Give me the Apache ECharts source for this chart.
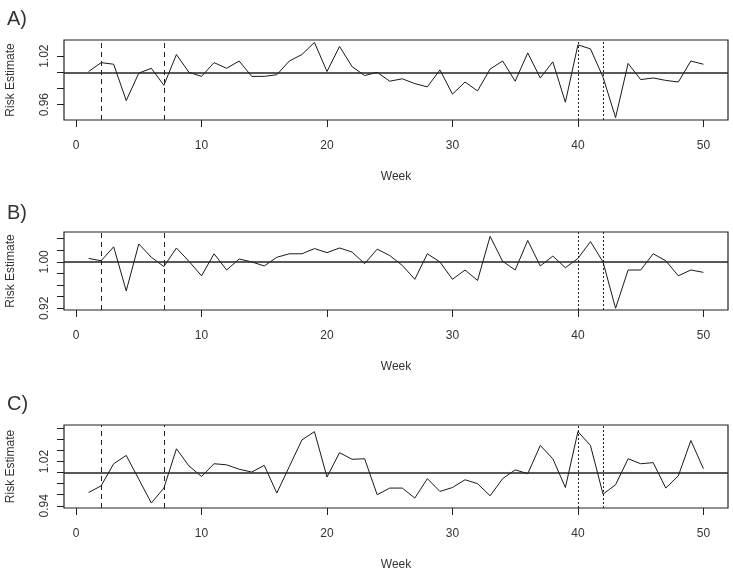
<!DOCTYPE html>
<html>
<head>
<meta charset="utf-8">
<style>
  html, body { margin: 0; padding: 0; background: #fff; }
  #chart-container { width: 733px; height: 573px; }
</style>
</head>
<body>
<div id="chart-container"></div>
<script src="https://cdn.jsdelivr.net/npm/echarts@6/dist/echarts.min.js"></script>
<script>
// weeks 1..50
const weeks = [];
for (let i = 1; i <= 50; i++) weeks.push(i);

// risk estimates
const riskA = [
  1.001, 1.012, 1.010, 0.965, 0.999, 1.005, 0.984, 1.022, 1.000, 0.995,
  1.012, 1.005, 1.014, 0.995, 0.995, 0.997, 1.014, 1.022, 1.037, 1.001,
  1.032, 1.007, 0.996, 1.000, 0.989, 0.992, 0.986, 0.982, 1.003, 0.973,
  0.988, 0.977, 1.004, 1.014, 0.989, 1.024, 0.993, 1.013, 0.963, 1.034,
  1.029, 0.994, 0.944, 1.011, 0.991, 0.993, 0.990, 0.988, 1.014, 1.010
];
const riskB = [
  1.006, 1.002, 1.026, 0.950, 1.031, 1.008, 0.992, 1.024, 1.001, 0.976,
  1.014, 0.986, 1.005, 1.000, 0.993, 1.008, 1.014, 1.014, 1.023, 1.016,
  1.024, 1.017, 0.997, 1.022, 1.011, 0.994, 0.970, 1.014, 1.000, 0.970,
  0.986, 0.968, 1.044, 1.001, 0.986, 1.037, 0.993, 1.010, 0.990, 1.006,
  1.035, 1.000, 0.920, 0.986, 0.986, 1.014, 1.002, 0.976, 0.986, 0.982
];
const riskC = [
  0.964, 0.976, 1.016, 1.031, 0.988, 0.945, 0.972, 1.043, 1.012, 0.993,
  1.016, 1.014, 1.006, 1.001, 1.013, 0.963, 1.011, 1.059, 1.074, 0.992,
  1.036, 1.024, 1.025, 0.960, 0.972, 0.972, 0.954, 0.989, 0.966, 0.973,
  0.987, 0.980, 0.958, 0.989, 1.005, 0.998, 1.049, 1.025, 0.973, 1.074,
  1.049, 0.961, 0.978, 1.025, 1.016, 1.018, 0.972, 0.994, 1.058, 1.007
];

const panelNames = ["A)", "B)", "C)"];
const xTicks = [0, 10, 20, 30, 40, 50];
const yTicksA = [0.96, 0.98, 1.0, 1.02];
const yTicksB = [0.92, 0.94, 0.96, 0.98, 1.0, 1.02, 1.04];
const yTicksC = [0.94, 0.96, 0.98, 1.0, 1.02, 1.04, 1.06, 1.08];
const yLabelsA = [0.96, 1.02];
const yLabelsB = [0.92, 1.0];
const yLabelsC = [0.94, 1.02];
const dashedWeeks = [2, 7];
const dottedWeeks = [40, 42];

let dom = document.getElementById("chart-container");
let myChart = echarts.init(dom, null, { renderer: "canvas" });

const txt = "#333";
const font = "Liberation Sans";

// one entry per panel: box placement and y range
const panels = [
  { top: 40, height: 80, min: 0.941, max: 1.04, data: riskA, ticks: yTicksA, labels: yLabelsA, title: 4 },
  { top: 232, height: 78, min: 0.917, max: 1.0516, data: riskB, ticks: yTicksB, labels: yLabelsB, title: 198 },
  { top: 425, height: 83, min: 0.936, max: 1.086, data: riskC, ticks: yTicksC, labels: yLabelsC, title: 389 },
];

const grids = [], xAxes = [], yAxes = [], seriesList = [], titles = [];

panels.forEach(function (p, i) {
  grids.push({
    left: 64, right: 5, top: p.top, height: p.height,
    outerBoundsMode: "none", containLabel: false,
    show: true, borderColor: "#222", borderWidth: 1.2, backgroundColor: "transparent",
  });
  titles.push({
    text: panelNames[i], left: 2, top: p.title,
    textStyle: { fontFamily: "Liberation Sans Narrow, Liberation Sans", fontSize: 20, fontWeight: "normal", color: txt },
  });
  xAxes.push({
    gridIndex: i, type: "value", min: -0.96, max: 51.96,
    name: "Week", nameLocation: "middle", nameGap: 51,
    nameTextStyle: { fontFamily: font, fontSize: 12, color: txt },
    axisLine: { show: false, onZero: false },
    axisTick: { show: true, inside: false, customValues: xTicks, length: 7, lineStyle: { color: "#222" } },
    axisLabel: { customValues: xTicks, margin: 20, fontFamily: font, fontSize: 12, color: txt },
    splitLine: { show: false },
  });
  yAxes.push({
    gridIndex: i, type: "value", min: p.min, max: p.max, position: "left",
    name: "Risk Estimate", nameLocation: "middle", nameGap: 47,
    nameTextStyle: { fontFamily: font, fontSize: 12, color: txt },
    // keep the axis on the box edge, not at week 0
    axisLine: { show: false, onZero: false },
    axisTick: { show: true, inside: false, customValues: p.ticks, length: 7, lineStyle: { color: "#222" } },
    axisLabel: {
      customValues: p.labels, rotate: 90, margin: 13,
      fontFamily: font, fontSize: 12, color: txt,
      formatter: function (v) { return v.toFixed(2); },
    },
    splitLine: { show: false },
  });

  const marks = [];
  dashedWeeks.forEach(function (w) {
    marks.push({ xAxis: w, lineStyle: { type: [5, 4], color: "#222", width: 1 } });
  });
  dottedWeeks.forEach(function (w) {
    marks.push({ xAxis: w, lineStyle: { type: [2, 2], color: "#222", width: 1 } });
  });
  marks.push({ yAxis: 1.0, lineStyle: { type: "solid", color: "#222", width: 1.5 } });

  seriesList.push({
    type: "line",
    xAxisIndex: i, yAxisIndex: i,
    data: weeks.map(function (w, k) { return [w, p.data[k]]; }),
    showSymbol: false,
    lineStyle: { color: "#1a1a1a", width: 1 },
    markLine: { silent: true, symbol: "none", label: { show: false }, data: marks },
  });
});

let option = {
  animation: false,
  backgroundColor: "#fff",
  title: titles,
  grid: grids,
  xAxis: xAxes,
  yAxis: yAxes,
  series: seriesList,
};

myChart.setOption(option);

window.addEventListener("resize", function () {
  if (myChart) {
    myChart.resize();
  }
});
</script>
</body>
</html>
